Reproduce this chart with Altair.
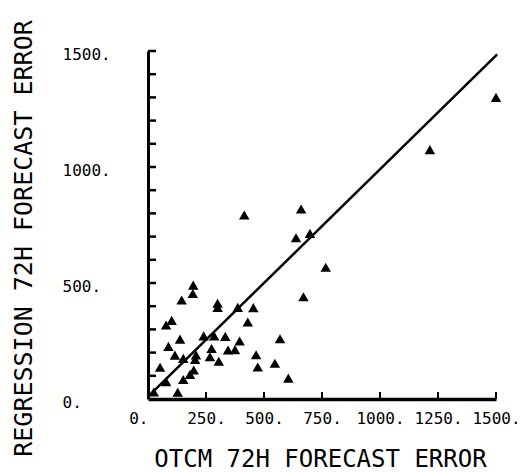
import altair as alt
import pandas as pd

# Scatter data (OTCM 72h error vs regression 72h error)
otcm_err = [1500, 1215, 415, 660, 638, 698, 766, 670, 195, 193,
            145, 300, 300, 387, 454, 430, 102, 78, 138, 240,
            285, 333, 395, 569, 88, 274, 345, 375, 116, 152,
            207, 203, 267, 305, 466, 547, 473, 52, 197, 181,
            152, 605, 78, 128, 25]
reg_err = [1300, 1075, 793, 819, 695, 714, 568, 441, 491, 455,
           427, 413, 395, 395, 394, 332, 339, 319, 258, 272,
           272, 270, 250, 260, 227, 218, 211, 213, 189, 175,
           190, 170, 182, 163, 191, 154, 138, 137, 125, 106,
           84, 90, 75, 29, 30]

# Fitted line end points
line_x = [0, 1505]
line_y = [10, 1485]

# Tick positions
x_label_ticks = [0, 250, 500, 750, 1000, 1250, 1500]
y_label_ticks = [0, 500, 1000, 1500]
x_minor = [250, 500, 750, 1000, 1250, 1500]
y_minor = list(range(100, 1501, 100))

pts = pd.DataFrame({"x": otcm_err, "y": reg_err})
ln = pd.DataFrame({"x": line_x, "y": line_y})
xt = pd.DataFrame({"x": x_minor})
yt = pd.DataFrame({"y": y_minor})

MONO = "DejaVu Sans Mono"
W = 348
H = 348

xscale = alt.Scale(domain=[0, 1500], nice=False, zero=True)
yscale = alt.Scale(domain=[0, 1500], nice=False, zero=True)

xaxis = alt.Axis(
    title="OTCM 72H FORECAST ERROR",
    values=x_label_ticks,
    labelExpr="datum.value + '.'",
    ticks=False,
    grid=False,
    domainColor="black",
    domainWidth=3.5,
    labelFont=MONO,
    labelFontSize=16,
    labelColor="black",
    labelPadding=11,
    labelFlush=False,
    labelOverlap=False,
    labelAlign={"condition": {"test": "datum.value == 0", "value": "right"}, "value": "center"},
    titleFont=MONO,
    titleFontSize=24,
    titleFontWeight="normal",
    titleColor="black",
    titleX=172,
    titleY=67,
    titleAlign="center",
    titleBaseline="alphabetic",
)

yaxis = alt.Axis(
    title="REGRESSION 72H FORECAST ERROR",
    values=y_label_ticks,
    labelExpr="datum.value + '.'",
    ticks=False,
    grid=False,
    domainColor="black",
    domainWidth=3,
    labelFont=MONO,
    labelFontSize=16,
    labelColor="black",
    labelAlign="left",
    labelBaseline="middle",
    labelPadding=86,
    labelOffset=3,
    labelFlush=False,
    labelOverlap=False,
    titleFont=MONO,
    titleFontSize=25,
    titleFontWeight="normal",
    titleColor="black",
    titleAngle=270,
    titleX=-125,
    titleY=187,
    titleAlign="center",
    titleBaseline="middle",
)

points = alt.Chart(pts).mark_point(
    shape="triangle-up", filled=True, color="black", size=110, opacity=1
).encode(
    x=alt.X("x:Q", scale=xscale, axis=xaxis),
    y=alt.Y("y:Q", scale=yscale, axis=yaxis),
)

line = alt.Chart(ln).mark_line(color="black", strokeWidth=2.5).encode(
    x=alt.X("x:Q", scale=xscale, axis=xaxis),
    y=alt.Y("y:Q", scale=yscale, axis=yaxis),
)

y_ticks = alt.Chart(yt).mark_rule(color="black", strokeWidth=2.5).encode(
    y=alt.Y("y:Q", scale=yscale, axis=yaxis),
    x=alt.value(0),
    x2=alt.value(8),
)

x_ticks = alt.Chart(xt).mark_rule(color="black", strokeWidth=2).encode(
    x=alt.X("x:Q", scale=xscale, axis=xaxis),
    y=alt.value(H),
    y2=alt.value(H - 7),
)

chart = alt.layer(points, line, y_ticks, x_ticks).properties(
    width=W,
    height=H,
    autosize=alt.AutoSizeParams(type="none"),
    padding={"left": 148, "top": 51, "right": 26, "bottom": 74},
    background="white",
).configure_view(stroke=None)

chart.save("out.html", embed_options={"renderer": "svg", "actions": False})
